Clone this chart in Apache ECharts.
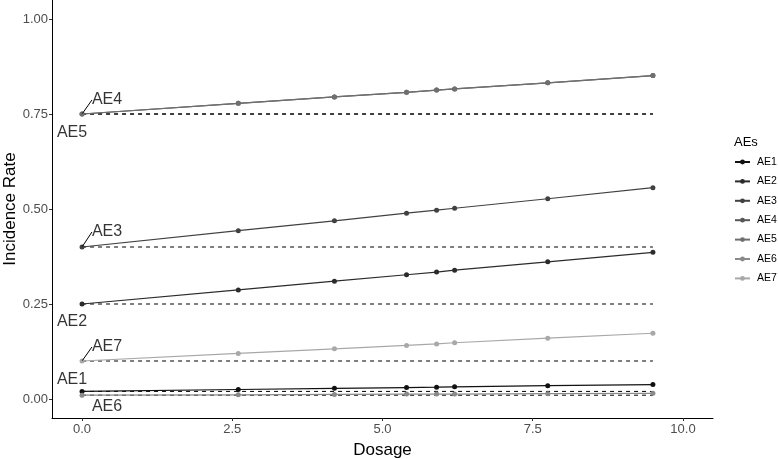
<!DOCTYPE html>
<html>
<head>
<meta charset="utf-8">
<script src="https://cdn.jsdelivr.net/npm/echarts@6/dist/echarts.min.js"></script>
<style>
  html, body { margin: 0; padding: 0; background: #fff; }
  #main { width: 778px; height: 459px; }
</style>
</head>
<body>
<div id="main"></div>
<script>
// dosage values (x) shared by all AEs
var dosage = [0, 2.6, 4.2, 5.4, 5.9, 6.2, 7.75, 9.5];

var aeNames = ['AE1', 'AE2', 'AE3', 'AE4', 'AE5', 'AE6', 'AE7'];

// incidence rate per AE at each dosage
var ae1 = [0.020, 0.025, 0.028, 0.030, 0.031, 0.032, 0.035, 0.038];
var ae2 = [0.250, 0.287, 0.310, 0.327, 0.334, 0.339, 0.361, 0.386];
var ae3 = [0.400, 0.443, 0.469, 0.489, 0.497, 0.502, 0.527, 0.556];
var ae4 = [0.750, 0.778, 0.795, 0.807, 0.813, 0.816, 0.832, 0.851];
var ae5 = [0.750, 0.778, 0.795, 0.807, 0.813, 0.816, 0.832, 0.851];
var ae6 = [0.010, 0.011, 0.012, 0.013, 0.013, 0.013, 0.014, 0.015];
var ae7 = [0.100, 0.120, 0.132, 0.141, 0.145, 0.148, 0.160, 0.173];

// baseline rates (dashed reference lines)
var baseline = [0.02, 0.25, 0.40, 0.75, 0.75, 0.01, 0.10];

var xTicks = [0, 2.5, 5, 7.5, 10];
var yTicks = [0, 0.25, 0.5, 0.75, 1];

var aeValues = [ae1, ae2, ae3, ae4, ae5, ae6, ae7];
var colors = ['#111111', '#2b2b2b', '#414141', '#575757', '#6f6f6f', '#8a8a8a', '#a8a8a8'];

// label nudges (pixels) like ggrepel put them
var labelShift = [
  [-10, -12], [-10, 18], [25, -15], [25, -14], [-10, 19], [25, 11], [25, -14]
];
var withLeader = [false, false, true, true, false, false, true];

var font = 'Liberation Sans, Arial, sans-serif';

var series = [];
aeNames.forEach(function (name, i) {
  series.push({
    name: name,
    type: 'line',
    data: dosage.map(function (d, j) { return [d, aeValues[i][j]]; }),
    symbol: 'circle',
    symbolSize: 5,
    color: colors[i],
    lineStyle: { width: 1.2, color: colors[i] },
    itemStyle: { color: colors[i] },
    silent: true,
    z: 3
  });
});
aeNames.forEach(function (name, i) {
  series.push({
    name: 'base_' + name,
    type: 'line',
    data: [[dosage[0], baseline[i]], [dosage[dosage.length - 1], baseline[i]]],
    symbol: 'none',
    lineStyle: { width: 1, color: '#000', type: [4, 4] },
    silent: true,
    z: 2
  });
});
series.push({
  name: 'labels',
  type: 'scatter',
  symbolSize: 1,
  itemStyle: { color: 'rgba(0,0,0,0)' },
  silent: true,
  z: 5,
  data: aeNames.map(function (name, i) {
    return {
      value: [dosage[0], baseline[i], name],
      labelLine: { show: withLeader[i] }
    };
  }),
  label: {
    show: true,
    position: 'inside',
    formatter: function (p) { return p.value[2]; },
    fontFamily: font,
    fontSize: 16,
    color: '#000'
  },
  labelLine: { show: true, lineStyle: { color: '#000', width: 1 } },
  labelLayout: function (p) {
    var s = labelShift[p.dataIndex];
    return { dx: s[0], dy: s[1] };
  }
});

var option = {
  animation: false,
  backgroundColor: '#fff',
  title: {
    text: 'AEs',
    left: 734,
    top: 136,
    padding: 0,
    textStyle: { fontFamily: font, fontSize: 13, fontWeight: 'normal', color: '#000' }
  },
  legend: {
    data: aeNames,
    orient: 'vertical',
    left: 734,
    top: 156,
    padding: 0,
    itemWidth: 15,
    itemHeight: 6,
    itemGap: 7.4,
    textStyle: { fontFamily: font, fontSize: 10.5, lineHeight: 12, color: '#000', padding: [0, 0, 0, 2] },
    selectedMode: false
  },
  grid: { left: 52, right: 65, top: 0, bottom: 41, outerBoundsMode: 'none' },
  xAxis: {
    type: 'value',
    min: -0.5,
    max: 10.5,
    name: 'Dosage',
    nameLocation: 'middle',
    nameGap: 24,
    nameMoveOverlap: false,
    nameTextStyle: { fontFamily: font, fontSize: 17, color: '#000' },
    axisLine: { show: true, onZero: false, lineStyle: { color: '#000', width: 1 } },
    axisTick: { show: true, length: 3, customValues: xTicks, lineStyle: { color: '#333' } },
    axisLabel: {
      customValues: xTicks,
      formatter: function (v) { return v.toFixed(1); },
      fontFamily: font, fontSize: 13, color: '#4d4d4d', margin: 5
    },
    splitLine: { show: false }
  },
  yAxis: {
    type: 'value',
    min: -0.05,
    max: 1.05,
    name: 'Incidence Rate',
    nameLocation: 'middle',
    nameGap: 33,
    nameMoveOverlap: false,
    nameTextStyle: { fontFamily: font, fontSize: 17, color: '#000' },
    axisLine: { show: true, onZero: false, lineStyle: { color: '#000', width: 1 } },
    axisTick: { show: true, length: 3, customValues: yTicks, lineStyle: { color: '#333' } },
    axisLabel: {
      customValues: yTicks,
      formatter: function (v) { return v.toFixed(2); },
      fontFamily: font, fontSize: 13, color: '#4d4d4d', margin: 4
    },
    splitLine: { show: false }
  },
  series: series
};

var chart = echarts.init(document.getElementById('main'), null, { renderer: 'canvas' });
chart.setOption(option);
</script>
</body>
</html>
